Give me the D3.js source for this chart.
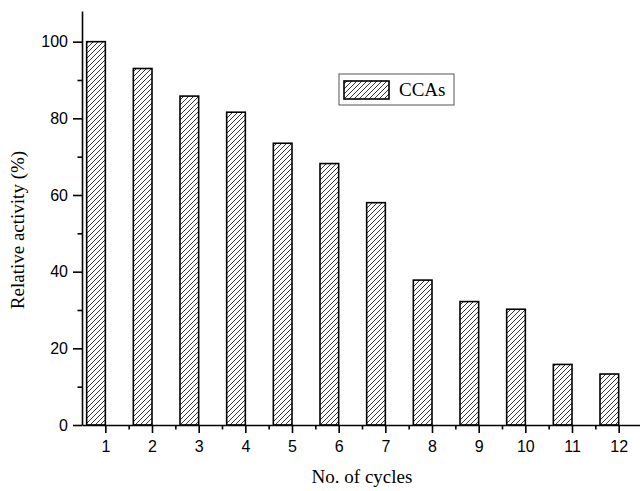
<!DOCTYPE html>
<html>
<head>
<meta charset="utf-8">
<script src="https://cdn.jsdelivr.net/npm/d3@7"></script>
<style>
  html, body { margin: 0; padding: 0; background: #fff; }
  svg { display: block; }
</style>
</head>
<body>
<svg id="chart" width="640" height="491"></svg>
<script>
// Relative activity of the catalyst over repeated reuse cycles
const cycles = [1, 2, 3, 4, 5, 6, 7, 8, 9, 10, 11, 12];
const activity = [100, 93, 85.8, 81.6, 73.5, 68.2, 58, 37.8, 32.2, 30.2, 15.8, 13.3];
const yTicks = [0, 20, 40, 60, 80, 100];
const yMinorTicks = [10, 30, 50, 70, 90];
const xMinorTicks = [1.5, 2.5, 3.5, 4.5, 5.5, 6.5, 7.5, 8.5, 9.5, 10.5, 11.5];
const seriesName = "CCAs";

const svg = d3.select("#chart");

const x = d3.scaleLinear().domain([0.5, 12.5]).range([82, 642]);
const y = d3.scaleLinear().domain([0, 108]).range([425, 11]);

// diagonal hatch fill for bars
const defs = svg.append("defs");
const pat = defs.append("pattern")
  .attr("id", "hatch")
  .attr("patternUnits", "userSpaceOnUse")
  .attr("width", 5).attr("height", 5);
pat.append("rect").attr("width", 5).attr("height", 5).attr("fill", "#fff");
pat.append("path")
  .attr("d", "M-1,6 L6,-1 M-1,1 L1,-1 M4,6 L6,4")
  .attr("stroke", "#000").attr("stroke-width", 0.8);

// bars: each sits just left of its cycle tick
const barW = 0.4;
svg.append("g").selectAll("rect")
  .data(cycles.map((c, i) => ({ c, v: activity[i] })))
  .join("rect")
  .attr("x", d => x(d.c - barW))
  .attr("y", d => y(d.v))
  .attr("width", d => x(d.c) - x(d.c - barW))
  .attr("height", d => y(0) - y(d.v))
  .attr("fill", "url(#hatch)")
  .attr("stroke", "#000")
  .attr("stroke-width", 1.6);

const tickFont = "'Liberation Sans', Arial, sans-serif";
const titleFont = "'Liberation Serif', 'Times New Roman', serif";

// y axis
svg.append("g").attr("transform", `translate(${x(0.5)},0)`)
  .call(d3.axisLeft(y).tickValues(yTicks).tickSize(9).tickPadding(5).tickSizeOuter(0));
svg.append("g").attr("transform", `translate(${x(0.5)},0)`)
  .call(d3.axisLeft(y).tickValues(yMinorTicks).tickSize(4.5).tickFormat("").tickSizeOuter(0))
  .select(".domain").remove();

// x axis
svg.append("g").attr("transform", `translate(0,${y(0)})`)
  .call(d3.axisBottom(x).tickValues(cycles).tickSize(8).tickPadding(7.5).tickSizeOuter(0));
svg.append("g").attr("transform", `translate(0,${y(0)})`)
  .call(d3.axisBottom(x).tickValues(xMinorTicks).tickSize(4.5).tickFormat("").tickSizeOuter(0))
  .select(".domain").remove();

svg.selectAll(".domain, .tick line").attr("stroke", "#000").attr("stroke-width", 1.6);
svg.selectAll(".tick text")
  .attr("font-family", tickFont)
  .attr("font-size", 16)
  .attr("fill", "#000");

// axis titles
svg.append("text")
  .attr("x", 362)
  .attr("y", 483)
  .attr("text-anchor", "middle")
  .attr("font-family", titleFont)
  .attr("font-size", 19)
  .text("No. of cycles");

svg.append("text")
  .attr("transform", `translate(24,${(148 + 312) / 2}) rotate(-90)`)
  .attr("text-anchor", "middle")
  .attr("font-family", titleFont)
  .attr("font-size", 19)
  .text("Relative activity (%)");

// legend
const lg = svg.append("g").attr("transform", "translate(339,74)");
lg.append("rect")
  .attr("width", 115).attr("height", 31)
  .attr("fill", "#fff").attr("stroke", "#555").attr("stroke-width", 1);
lg.append("rect")
  .attr("x", 5).attr("y", 7).attr("width", 45).attr("height", 18)
  .attr("fill", "url(#hatch)").attr("stroke", "#000").attr("stroke-width", 1.6);
lg.append("text")
  .attr("x", 60).attr("y", 22)
  .attr("font-family", titleFont)
  .attr("font-size", 19)
  .text(seriesName);
</script>
</body>
</html>
